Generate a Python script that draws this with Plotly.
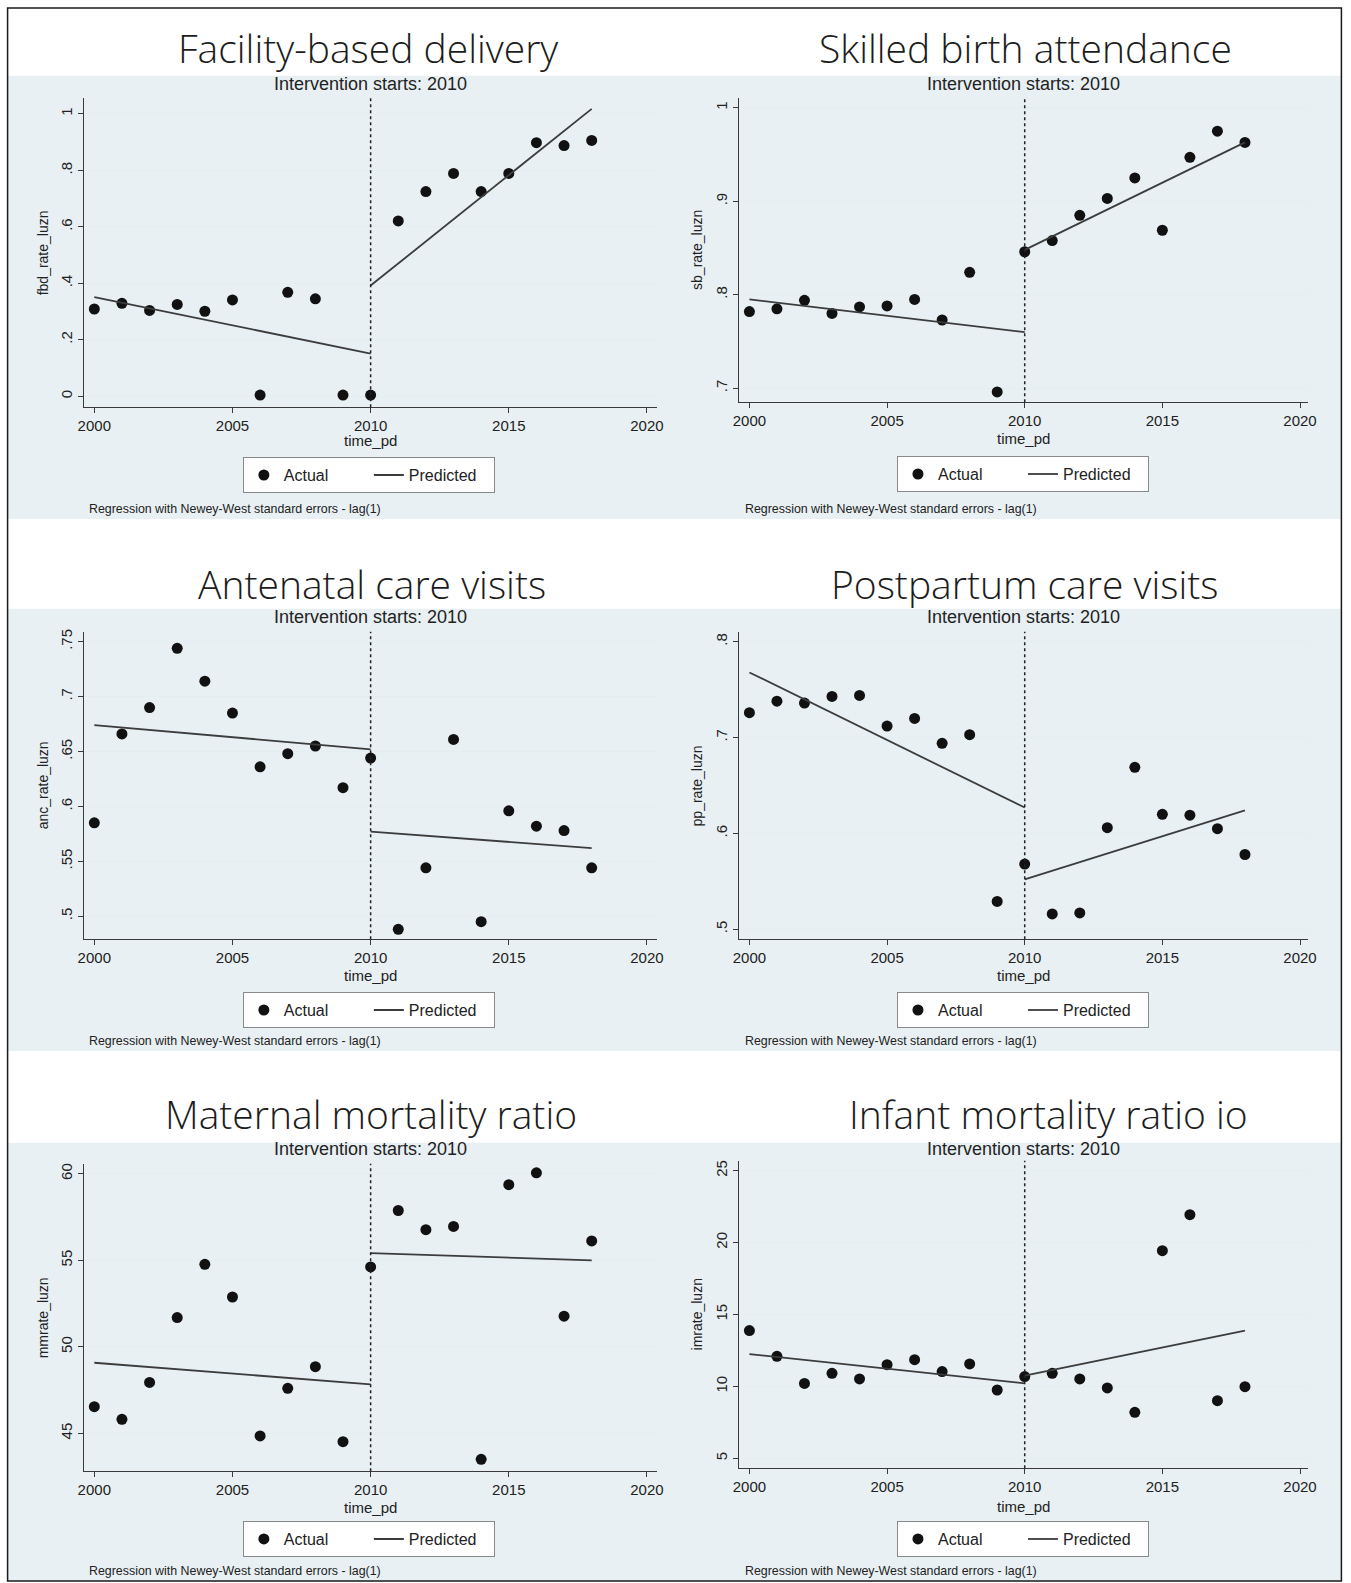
import plotly.graph_objects as go

# ---------------- data ----------------
years = list(range(2000, 2019))
intervention_year = 2010

titles = ["Facility-based delivery", "Skilled birth attendance",
          "Antenatal care visits", "Postpartum care visits",
          "Maternal mortality ratio", "Infant mortality ratio io"]
y_labels = ["fbd_rate_luzn", "sb_rate_luzn", "anc_rate_luzn",
            "pp_rate_luzn", "mmrate_luzn", "imrate_luzn"]
x_label = "time_pd"
subtitle = "Intervention starts: 2010"
footnote = "Regression with Newey-West standard errors - lag(1)"

fbd_actual = [0.309, 0.329, 0.304, 0.325, 0.301, 0.341, 0.004, 0.368, 0.345, 0.004,
              0.004, 0.621, 0.725, 0.789, 0.725, 0.789, 0.898, 0.888, 0.906]
fbd_pred_pre = [0.351, 0.151]
fbd_pred_post = [0.392, 1.018]

sb_actual = [0.782, 0.785, 0.794, 0.780, 0.787, 0.788, 0.795, 0.773, 0.824, 0.696,
             0.846, 0.858, 0.885, 0.903, 0.925, 0.869, 0.947, 0.975, 0.963]
sb_pred_pre = [0.795, 0.760]
sb_pred_post = [0.848, 0.963]

anc_actual = [0.585, 0.666, 0.690, 0.744, 0.714, 0.685, 0.636, 0.648, 0.655, 0.617,
              0.644, 0.488, 0.544, 0.661, 0.495, 0.596, 0.582, 0.578, 0.544]
anc_pred_pre = [0.674, 0.652]
anc_pred_post = [0.577, 0.562]

pp_actual = [0.726, 0.738, 0.736, 0.743, 0.744, 0.712, 0.720, 0.694, 0.703, 0.529,
             0.568, 0.516, 0.517, 0.606, 0.669, 0.620, 0.619, 0.605, 0.578]
pp_pred_pre = [0.768, 0.627]
pp_pred_post = [0.552, 0.624]

mm_actual = [46.54, 45.81, 47.94, 51.69, 54.77, 52.88, 44.85, 47.60, 48.85, 44.52,
             54.62, 57.88, 56.77, 56.96, 43.50, 59.37, 60.06, 51.77, 56.12]
mm_pred_pre = [49.08, 47.83]
mm_pred_post = [55.42, 55.00]

im_actual = [13.88, 12.09, 10.21, 10.91, 10.52, 11.51, 11.86, 11.03, 11.56, 9.75,
             10.68, 10.91, 10.52, 9.89, 8.20, 19.44, 21.94, 9.01, 9.98]
im_pred_pre = [12.25, 10.21]
im_pred_post = [10.75, 13.88]

x_tick_vals = [2000, 2005, 2010, 2015, 2020]
x_tick_text = ["2000", "2005", "2010", "2015", "2020"]

fbd_ticks = [0, 0.2, 0.4, 0.6, 0.8, 1]
fbd_tick_text = ["0", ".2", ".4", ".6", ".8", "1"]
sb_ticks = [0.7, 0.8, 0.9, 1]
sb_tick_text = [".7", ".8", ".9", "1"]
anc_ticks = [0.5, 0.55, 0.6, 0.65, 0.7, 0.75]
anc_tick_text = [".5", ".55", ".6", ".65", ".7", ".75"]
pp_ticks = [0.5, 0.6, 0.7, 0.8]
pp_tick_text = [".5", ".6", ".7", ".8"]
mm_ticks = [45, 50, 55, 60]
mm_tick_text = ["45", "50", "55", "60"]
im_ticks = [5, 10, 15, 20, 25]
im_tick_text = ["5", "10", "15", "20", "25"]

series = [
    (fbd_actual, fbd_pred_pre, fbd_pred_post, fbd_ticks, fbd_tick_text),
    (sb_actual, sb_pred_pre, sb_pred_post, sb_ticks, sb_tick_text),
    (anc_actual, anc_pred_pre, anc_pred_post, anc_ticks, anc_tick_text),
    (pp_actual, pp_pred_pre, pp_pred_post, pp_ticks, pp_tick_text),
    (mm_actual, mm_pred_pre, mm_pred_post, mm_ticks, mm_tick_text),
    (im_actual, im_pred_pre, im_pred_post, im_ticks, im_tick_text),
]

# ---------------- layout (pixels) ----------------
W, H = 1351, 1583
# horizontal correction for how the page is photographed (observed offset / scale)
OX, SX = 7.2, 0.988


def hx(px):
    return (px - OX) / SX / W


def vy(px):
    return 1 - px / H


panels = [
    dict(box=(84, 657, 95, 405), xr=(1999.62, 2020.36), yr=(-0.039, 1.057),
         title_y=45, sub_y=81, xt_y=438, leg=(369, 473), foot=(87, 507), ylab_x=43, title_x=368),
    dict(box=(739.5, 1308, 95, 400), xr=(1999.637, 2020.29), yr=(0.685, 1.0107),
         title_y=45, sub_y=81, xt_y=436, leg=(1023, 472), foot=(743, 507), ylab_x=697, title_x=1026),
    dict(box=(84, 657, 630, 938), xr=(1999.62, 2020.36), yr=(0.479, 0.759),
         title_y=582, sub_y=615, xt_y=974, leg=(369, 1009), foot=(87, 1040), ylab_x=43, title_x=372),
    dict(box=(739.5, 1308, 630, 938), xr=(1999.637, 2020.29), yr=(0.4896, 0.8104),
         title_y=582, sub_y=615, xt_y=974, leg=(1023, 1009), foot=(743, 1040), ylab_x=697, title_x=1025),
    dict(box=(84, 657, 1163, 1471), xr=(1999.62, 2020.36), yr=(42.81, 60.58),
         title_y=1113, sub_y=1148, xt_y=1507, leg=(369, 1539), foot=(87, 1571), ylab_x=43, title_x=371),
    dict(box=(739.5, 1308, 1160, 1468), xr=(1999.637, 2020.29), yr=(4.31, 25.69),
         title_y=1113, sub_y=1148, xt_y=1506, leg=(1023, 1539), foot=(743, 1571), ylab_x=697, title_x=1049),
]

band_rows = [(73, 517), (607, 1050), (1142, 1581)]

BAND = "#e8f0f3"
GRID = "#e4edf0"
AXIS = "#3a3a3a"
TXT = "#222222"
STATA_FONT = "Liberation Sans, Arial, sans-serif"
TITLE_FONT = "Open Sans, Noto Sans, sans-serif"

fig = go.Figure()
layout = dict(width=W, height=H, margin=dict(l=0, r=0, t=0, b=0),
              paper_bgcolor="white", plot_bgcolor="white", showlegend=True)
shapes = []
annotations = []

edge_l = max(hx(5), 0.6 / W)
edge_r = min(hx(1347), 1 - 0.6 / W)
for b0, b1 in band_rows:
    shapes.append(dict(type="rect", xref="paper", yref="paper", layer="below",
                       x0=edge_l, x1=edge_r, y0=vy(b1), y1=vy(b0),
                       fillcolor=BAND, line=dict(width=0)))
shapes.append(dict(type="rect", xref="paper", yref="paper", layer="above",
                   x0=edge_l, x1=edge_r, y0=vy(1581), y1=vy(5),
                   fillcolor="rgba(0,0,0,0)", line=dict(color="#1a1a1a", width=1.5)))

for i, (p, (actual, pre, post, yt, ytt)) in enumerate(zip(panels, series)):
    n = i + 1
    xa = "x" if n == 1 else f"x{n}"
    ya = "y" if n == 1 else f"y{n}"
    lg = "legend" if n == 1 else f"legend{n}"
    l, r, t, bt = p["box"]

    fig.add_trace(go.Scatter(
        x=years, y=actual, mode="markers", name="Actual",
        marker=dict(color="#111111", size=11, line=dict(width=0)),
        xaxis=xa, yaxis=ya, legend=lg, cliponaxis=False))
    fig.add_trace(go.Scatter(
        x=[years[0], intervention_year, None, intervention_year, years[-1]],
        y=[pre[0], pre[1], None, post[0], post[1]],
        mode="lines", name="Predicted", connectgaps=False,
        line=dict(color="#3c3c3c", width=1.8),
        xaxis=xa, yaxis=ya, legend=lg))

    xkey = "xaxis" if n == 1 else f"xaxis{n}"
    ykey = "yaxis" if n == 1 else f"yaxis{n}"
    layout[xkey] = dict(domain=[hx(l), hx(r)], anchor=ya, range=list(p["xr"]),
                        tickvals=x_tick_vals, ticktext=x_tick_text,
                        showgrid=False, zeroline=False, showline=True,
                        linecolor=AXIS, linewidth=1, ticks="outside", ticklen=5,
                        tickcolor=AXIS, tickwidth=1,
                        tickfont=dict(family=STATA_FONT, size=15, color=TXT))
    layout[ykey] = dict(domain=[vy(bt), vy(t)], anchor=xa, range=list(p["yr"]),
                        tickvals=yt, ticktext=ytt, tickangle=-90,
                        showgrid=True, gridcolor=GRID, gridwidth=1, zeroline=False,
                        showline=True, linecolor=AXIS, linewidth=1, ticks="outside",
                        ticklen=5, tickcolor=AXIS, tickwidth=1,
                        tickfont=dict(family=STATA_FONT, size=15, color=TXT))
    layout[lg] = dict(x=hx(p["leg"][0]), y=vy(p["leg"][1]), xanchor="center",
                      yanchor="middle", orientation="h", bgcolor="white",
                      bordercolor="#8a8a8a", borderwidth=1,
                      font=dict(family=STATA_FONT, size=16, color=TXT),
                      itemwidth=30, entrywidth=80, entrywidthmode="pixels")

    shapes.append(dict(type="line", xref=xa, yref=f"{ya} domain",
                       x0=intervention_year, x1=intervention_year, y0=0, y1=1,
                       line=dict(color="#222222", width=1.5, dash="dot")))

    cx = (l + r) / 2
    annotations += [
        dict(text=titles[i], x=hx(p["title_x"]), y=vy(p["title_y"]),
             xref="paper", yref="paper", xanchor="center", yanchor="middle",
             showarrow=False,
             font=dict(family=TITLE_FONT, size=39, color="#1c1c1c", weight=300)),
        dict(text=subtitle, x=hx(cx), y=vy(p["sub_y"]), xref="paper", yref="paper",
             xanchor="center", yanchor="middle", showarrow=False,
             font=dict(family=STATA_FONT, size=18, color=TXT)),
        dict(text=x_label, x=hx(cx), y=vy(p["xt_y"]), xref="paper", yref="paper",
             xanchor="center", yanchor="middle", showarrow=False,
             font=dict(family=STATA_FONT, size=15, color=TXT)),
        dict(text=y_labels[i], x=hx(p["ylab_x"]), y=vy((t + bt) / 2),
             xref="paper", yref="paper", xanchor="center", yanchor="middle",
             textangle=-90, showarrow=False,
             font=dict(family=STATA_FONT, size=14, color=TXT)),
        dict(text=footnote, x=hx(p["foot"][0]), y=vy(p["foot"][1]),
             xref="paper", yref="paper", xanchor="left", yanchor="middle",
             showarrow=False, font=dict(family=STATA_FONT, size=12.4, color=TXT)),
    ]

layout["shapes"] = shapes
layout["annotations"] = annotations
fig.update_layout(**layout)
fig.write_html(
    "out.html",
    config={"displayModeBar": False},
    post_script=(
        "document.documentElement.style.overflow='hidden';"
        "document.body.style.margin='0';"
        "document.body.style.overflow='hidden';"
        "var d=document.getElementById('{plot_id}');"
        "d.style.position='fixed';d.style.left='0px';d.style.top='0px';"
    ),
)
